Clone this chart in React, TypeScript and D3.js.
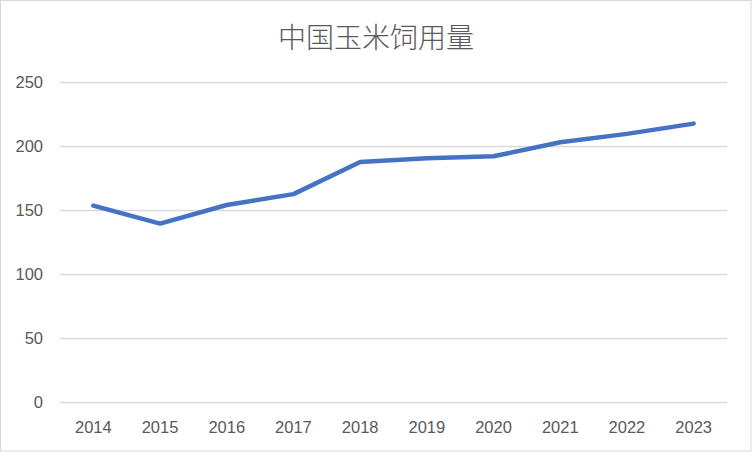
import React from "react";
import * as d3 from "d3";

const title = "中国玉米饲用量";
const years = ["2014", "2015", "2016", "2017", "2018", "2019", "2020", "2021", "2022", "2023"];
const values = [153.5, 139.5, 154, 162.5, 187.5, 190.5, 192, 203, 209.5, 217.5];
const yTicks = [0, 50, 100, 150, 200, 250];

const W = 752;
const H = 452;
const left = 60;
const right = 727;
const top = 82;
const bottom = 402.3;

export default function App() {
  const x = d3.scaleBand<string>().domain(years).range([left, right]).padding(0);
  const y = d3.scaleLinear().domain([0, 250]).range([bottom, top]);
  const line = d3
    .line<number>()
    .x((_, i) => (x(years[i]) as number) + x.bandwidth() / 2)
    .y((d) => y(d));
  const font = "'Liberation Sans', Arial, sans-serif";
  return (
    <svg
      width={W}
      height={H}
      style={{ position: "absolute", left: 0, top: 0 }}
    >
      <rect x={0} y={0} width={W} height={H} fill="#fff" />
      <rect x={0.5} y={0.5} width={W - 1.5} height={H - 1.5} fill="none" stroke="#d9d9d9" strokeWidth={1} />
      <text
        x={376}
        y={48}
        textAnchor="middle"
        fontFamily="'Noto Sans CJK SC', sans-serif"
        fontWeight={300}
        fontSize={28}
        fill="#595959"
      >
        {title}
      </text>
      {yTicks.map((t) => (
        <g key={t}>
          <line x1={left} x2={right} y1={Math.round(y(t)) + 0.5} y2={Math.round(y(t)) + 0.5} stroke="#d9d9d9" strokeWidth={1.3} />
          <text
            x={43}
            y={y(t)}
            dy="0.35em"
            textAnchor="end"
            fontFamily={font}
            fontSize={16.5}
            fill="#595959"
          >
            {t}
          </text>
        </g>
      ))}
      {years.map((yr) => (
        <text
          key={yr}
          x={(x(yr) as number) + x.bandwidth() / 2}
          y={433}
          textAnchor="middle"
          fontFamily={font}
          fontSize={16.5}
          fill="#595959"
        >
          {yr}
        </text>
      ))}
      <path
        d={line(values) || ""}
        fill="none"
        stroke="#4472C4"
        strokeWidth={4.5}
        strokeLinecap="round"
        strokeLinejoin="round"
      />
    </svg>
  );
}
